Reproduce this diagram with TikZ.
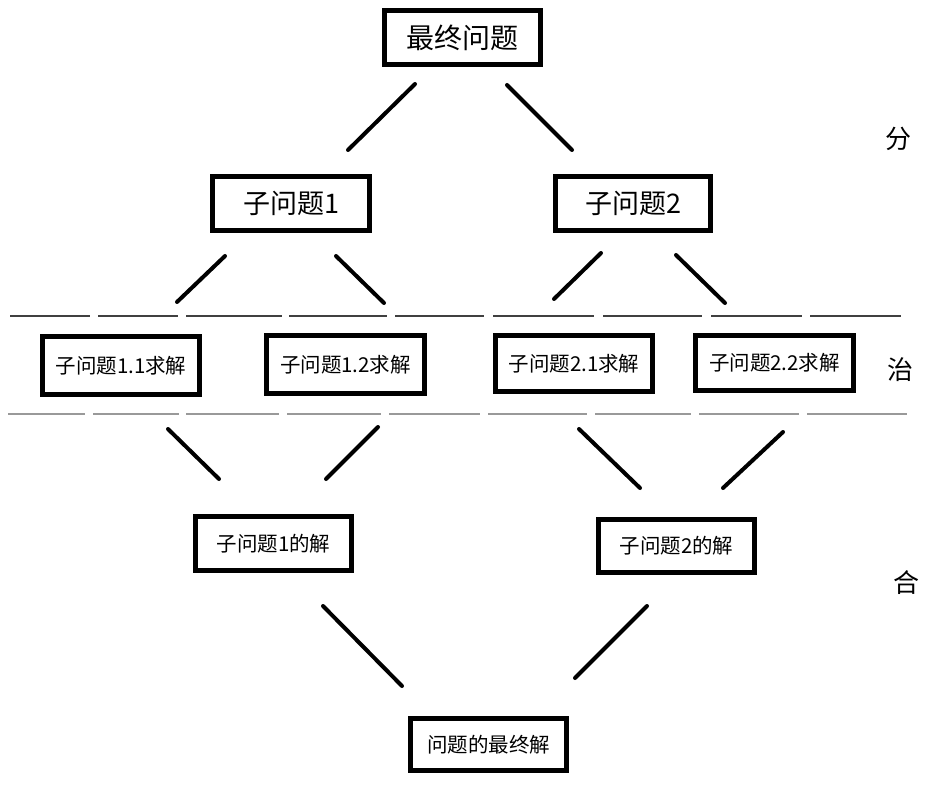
\documentclass[tikz,border=0pt]{standalone}
\usepackage{fontspec}
\setmainfont{Noto Sans CJK SC}
\begin{document}
\begin{tikzpicture}[x=1pt,y=-1pt,
  box/.style={draw=black,line width=5pt,fill=white,inner sep=0pt,align=center},
  big/.style={box,font=\fontsize{28}{31}\selectfont},
  mid/.style={box,font=\fontsize{27}{30}\selectfont},
  small/.style={box,font=\fontsize{20.5}{24}\selectfont},
  side/.style={inner sep=0pt,font=\fontsize{26}{30}\selectfont},
  conn/.style={line width=4pt,line cap=round},
  sepA/.style={line width=1.3pt,draw=black!75},
  sepB/.style={line width=2pt,draw=black!40}]
\useasboundingbox (0,0) rectangle (942,786);
% boxes
\node[big,minimum width=156pt,minimum height=54pt] (top) at (462.5,37.5) {最终问题};
\node[mid,minimum width=157pt,minimum height=54pt] (s1) at (291,203.5) {子问题1};
\node[mid,minimum width=155pt,minimum height=54pt] (s2) at (633,203.5) {子问题2};
\node[small,minimum width=157pt,minimum height=58pt] (s11) at (121,365.5) {子问题1.1求解};
\node[small,minimum width=158pt,minimum height=58pt] (s12) at (345.5,364.5) {子问题1.2求解};
\node[small,minimum width=157pt,minimum height=56pt] (s21) at (574,363.5) {子问题2.1求解};
\node[small,minimum width=158pt,minimum height=55pt] (s22) at (774.5,363) {子问题2.2求解};
\node[small,minimum width=156pt,minimum height=54pt] (r1) at (273.5,543.5) {子问题1的解};
\node[small,minimum width=156pt,minimum height=53pt] (r2) at (676.5,546) {子问题2的解};
\node[small,minimum width=156pt,minimum height=52pt] (fin) at (488.5,744.5) {问题的最终解};
% side labels
\node[side] (fen) at (898,139) {分};
\node[side] (zhi) at (900,370) {治};
\node[side] (he) at (906,583) {合};
% separator lines
\foreach \a/\b in {10/90,98/178,186/282,289/387,395/484,493/594,603/702,711/802,810/901}
  \draw[sepA] (\a,316) -- (\b,316);
\foreach \a/\b in {8/85,93/179,186/279,287/381,389/480,488/587,595/691,699/799,807/907}
  \draw[sepB] (\a,414) -- (\b,414);
% connector end points
\coordinate (a1) at (415,84);  \coordinate (a2) at (348,150);
\coordinate (b1) at (507,85);  \coordinate (b2) at (572,150);
\coordinate (c1) at (225,256); \coordinate (c2) at (177,302);
\coordinate (d1) at (336,256); \coordinate (d2) at (384,303);
\coordinate (e1) at (601,253); \coordinate (e2) at (554,299);
\coordinate (f1) at (676,255); \coordinate (f2) at (725,303);
\coordinate (g1) at (168,429); \coordinate (g2) at (219,479);
\coordinate (h1) at (378,427); \coordinate (h2) at (326,479);
\coordinate (i1) at (579,429); \coordinate (i2) at (640,488);
\coordinate (j1) at (783,432); \coordinate (j2) at (723,488);
\coordinate (k1) at (323,606); \coordinate (k2) at (402,686);
\coordinate (l1) at (647,606); \coordinate (l2) at (575,678);
\foreach \p in {a,b,c,d,e,f,g,h,i,j,k,l}
  \draw[conn] (\p1) -- (\p2);
\end{tikzpicture}
\end{document}
